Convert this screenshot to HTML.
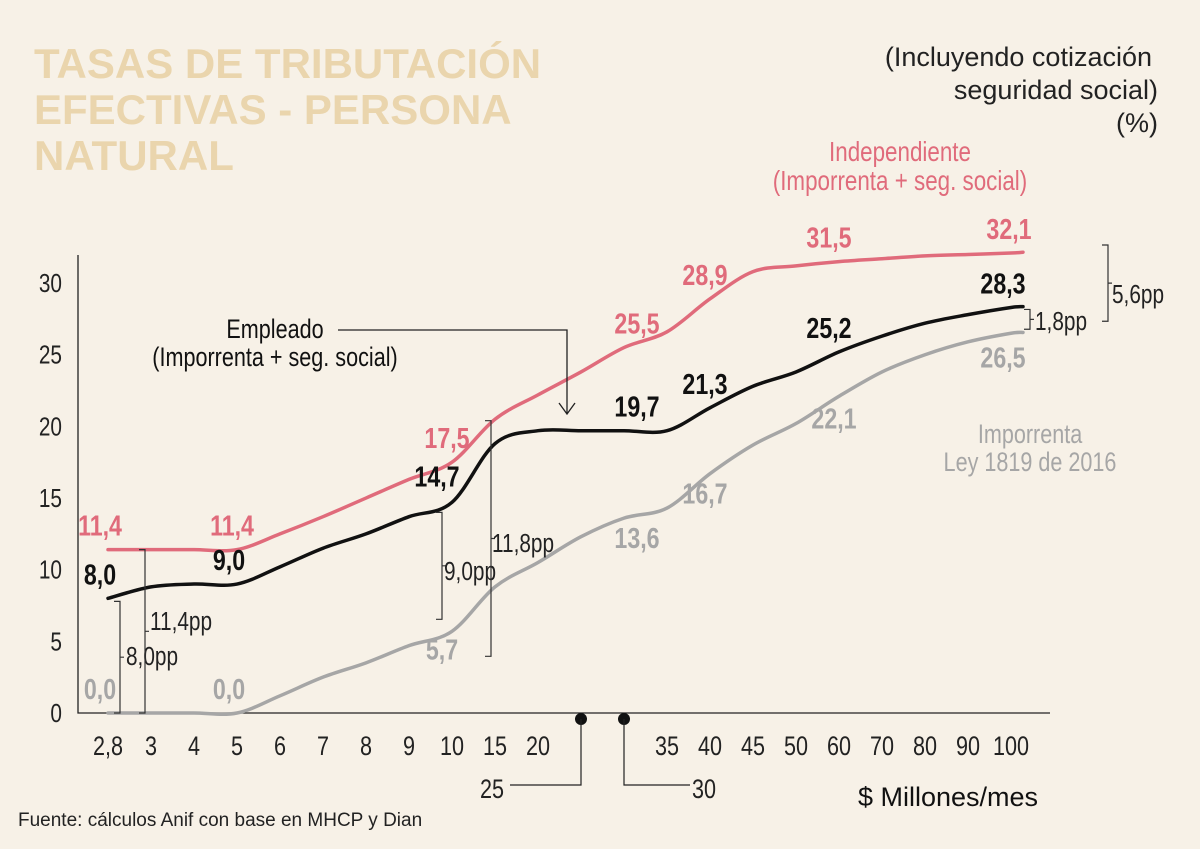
<!DOCTYPE html>
<html><head><meta charset="utf-8"><style>
body{margin:0;background:#f7f1e7;}
svg{display:block;font-family:"Liberation Sans",sans-serif;}
.c{transform-box:fill-box;transform:scaleX(0.8);}
</style></head><body>
<svg id="chart" width="1200" height="849" viewBox="0 0 1200 849">
<rect width="1200" height="849" fill="#f7f1e7"/>
<g fill="#ead5ad" font-weight="bold" font-size="42">
<text x="34" y="78">TASAS DE TRIBUTACIÓN</text>
<text x="34" y="124">EFECTIVAS - PERSONA</text>
<text x="34" y="170">NATURAL</text>
</g>
<g font-size="27" fill="#222" text-anchor="end">
<text x="1152" y="66">(Incluyendo cotización</text>
<text x="1158" y="99">seguridad social)</text>
<text x="1158" y="132">(%)</text>
</g>
<g id="axes"></g>
<g id="marks"></g>
<g id="annot"></g>
<text x="858" y="806" font-size="27" fill="#111">$ Millones/mes</text>
<text x="18" y="826" font-size="19" fill="#222">Fuente: cálculos Anif con base en MHCP y Dian</text>
</svg>
<script>
const categories=["2,8","3","4","5","6","7","8","9","10","15","20","25","30","35","40","45","50","60","70","80","90","100"];
const independiente=[11.4,11.4,11.4,11.4,12.5,13.7,15,16.3,17.5,20.5,22.2,23.8,25.5,26.6,28.9,30.8,31.2,31.5,31.7,31.9,32.0,32.1];
const empleado=[8.0,8.8,9.0,9.0,10.2,11.5,12.5,13.7,14.7,18.8,19.7,19.7,19.7,19.7,21.3,22.8,23.8,25.2,26.3,27.2,27.8,28.3];
const imporrenta=[0,0,0,0,1.2,2.5,3.5,4.7,5.7,8.8,10.5,12.3,13.6,14.3,16.7,18.7,20.2,22.1,23.8,25.0,25.9,26.5];
const yTicks=[0,5,10,15,20,25,30];
const NS="http://www.w3.org/2000/svg";
const x=i=>108+i*43;
const y=v=>713-v*14.33;
function mk(tag,attrs,parent,txt){const e=document.createElementNS(NS,tag);for(const k in attrs)e.setAttribute(k,attrs[k]);if(txt!==undefined)e.textContent=txt;parent.appendChild(e);
if(tag==='text'){const a=attrs['text-anchor']||'start';e.setAttribute('class','c');e.style.transformOrigin=a==='start'?'left':a==='end'?'right':'center';}
return e;}
const axes=document.getElementById('axes'),marks=document.getElementById('marks'),an=document.getElementById('annot');
let ax=mk('path',{d:`M78 255V713H1050`,stroke:'#222','stroke-width':1.3,fill:'none'},axes);


yTicks.forEach(t=>{const e=mk('text',{x:62,y:y(t)+9,'text-anchor':'end','font-size':26,fill:'#222'},axes,String(t));

});
categories.forEach((c,i)=>{if(c==="25"||c==="30"){const d=mk('circle',{cx:x(i),cy:719,r:6,fill:'#111'},axes);


const left=c==="25";const p=mk('path',{d:left?`M${x(i)} 719V785H510`:`M${x(i)} 719V785H690`,stroke:'#222','stroke-width':1.2,fill:'none'},axes);


const t=mk('text',{x:left?504:692,y:798,'text-anchor':left?'end':'start','font-size':27,fill:'#222'},axes,c);

return;}
const t=mk('text',{x:x(i),y:755,'text-anchor':'middle','font-size':27,fill:'#222'},axes,c);

});
function spline(vals){const p=vals.map((v,i)=>[x(i),y(v)]);p.push([x(vals.length-1)+12,y(vals[vals.length-1])-0.8]);let d=`M${p[0][0]} ${p[0][1]}`;
for(let i=0;i<p.length-1;i++){const p0=p[i-1]||p[i],p1=p[i],p2=p[i+1],p3=p[i+2]||p2;
d+=`C${p1[0]+(p2[0]-p0[0])/6} ${p1[1]+(p2[1]-p0[1])/6} ${p2[0]-(p3[0]-p1[0])/6} ${p2[1]-(p3[1]-p1[1])/6} ${p2[0]} ${p2[1]}`;}return d;}
[[imporrenta,'#a6a6a6','line-imporrenta'],[independiente,'#e06b7b','line-independiente'],[empleado,'#111','line-empleado']].forEach(([s,c,n])=>{
const e=mk('path',{d:spline(s),stroke:c,'stroke-width':3.5,fill:'none','stroke-linecap':'round'},marks);

});
function lab(i,s,c,dx,dy,name){const v=s[i];const e=mk('text',{x:x(i)+dx,y:y(v)+dy,'text-anchor':'middle','font-size':29,'font-weight':'bold',fill:c},an,String(v.toFixed(1)).replace('.',','));

}
const P='#e06b7b',G='#a6a6a6',K='#111';
[[0,-8,-14],[3,-5,-14],[8,-5,-14],[12,13,-14],[14,-5,-14],[17,-10,-14],[21,-2,-14]].forEach(a=>lab(a[0],independiente,P,a[1],a[2],'value-label-independiente'));
[[0,-8,-14],[3,-8,-14],[8,-15,-16],[12,13,-14],[14,-5,-14],[17,-10,-14],[21,-8,-14]].forEach(a=>lab(a[0],empleado,K,a[1],a[2],'value-label-empleado'));
[[0,-8,-14],[3,-8,-14],[8,-10,28],[12,13,30],[14,-5,30],[17,-5,32],[21,-8,34]].forEach(a=>lab(a[0],imporrenta,G,a[1],a[2],'value-label-imporrenta'));
function txt(xx,yy,t,c,name,anc,sz){const e=mk('text',{x:xx,y:yy,'text-anchor':anc||'start','font-size':sz||26,fill:c},an,t);

}
txt(900,161,'Independiente',P,'legend-independiente','middle',28);
txt(900,190,'(Imporrenta + seg. social)',P,'legend-independiente','middle',28);
txt(275,338,'Empleado',K,'legend-empleado','middle',27);
txt(275,366,'(Imporrenta + seg. social)',K,'legend-empleado','middle',27);
txt(1030,443,'Imporrenta',G,'legend-imporrenta','middle',27);
txt(1030,471,'Ley 1819 de 2016',G,'legend-imporrenta','middle',27);
let ar=mk('path',{d:'M338 330H567V413M559 403L567 414L575 403',stroke:'#222','stroke-width':1.3,fill:'none'},an);


function br(x0,y0,y1,t,tx,ty,name){const e=mk('path',{d:`M${x0-6} ${y0}H${x0}V${y1}H${x0-6}M${x0} ${(y0+y1)/2}H${x0+4}`,stroke:'#333','stroke-width':1.2,fill:'none'},an);


txt(tx,ty,t,'#222',name+'-label','start',26);}
br(120,y(8)+3,y(0),'8,0pp',126,665,'bracket-8pp');
br(145,y(11.4),y(0),'11,4pp',150,630,'bracket-11-4pp');
br(442,y(14.7)+10,y(5.7)-12,'9,0pp',444,580,'bracket-9pp');
br(491,y(19.7)-10,y(5.7)+25,'11,8pp',492,552,'bracket-11-8pp');
br(1030,y(28.3)+2,y(26.5)-4,'1,8pp',1035,330,'bracket-1-8pp');
br(1108,y(32.1)-8,y(26.5)-12,'5,6pp',1112,303,'bracket-5-6pp');
</script>
</body></html>
